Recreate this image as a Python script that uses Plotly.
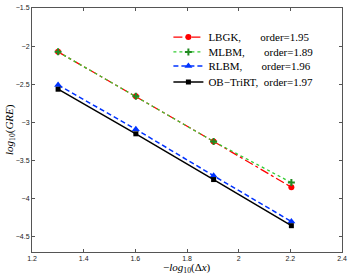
import plotly.graph_objects as go

dx = [1.301, 1.602, 1.903, 2.204]
lbgk = [-2.075, -2.658, -3.25, -3.85]
mlbm = [-2.075, -2.658, -3.25, -3.79]
rlbm = [-2.51, -3.09, -3.70, -4.30]
obtri = [-2.565, -3.15, -3.75, -4.355]

names = ["LBGK,\u00a0\u00a0\u00a0\u00a0\u00a0\u00a0\u00a0order=1.95",
         "MLBM,\u00a0\u00a0\u00a0\u00a0\u00a0\u00a0\u00a0order=1.89",
         "RLBM,\u00a0\u00a0\u00a0\u00a0\u00a0\u00a0\u00a0order=1.96",
         "OB\u2212TriRT,\u00a0\u00a0order=1.97"]

xticks = [1.2, 1.4, 1.6, 1.8, 2.0, 2.2, 2.4]
xticktext = ["1.2", "1.4", "1.6", "1.8", "2", "2.2", "2.4"]
yticks = [-1.5, -2, -2.5, -3, -3.5, -4, -4.5]
yticktext = ["\u22121.5", "\u22122", "\u22122.5", "\u22123", "\u22123.5", "\u22124", "\u22124.5"]

fig = go.Figure()
fig.add_trace(go.Scatter(x=dx, y=lbgk, name=names[0], mode="lines+markers", legend="legend",
                         line=dict(color="#ff0000", dash="dashdot", width=1.3),
                         marker=dict(symbol="circle", size=6, color="#ff0000")))
fig.add_trace(go.Scatter(x=dx, y=mlbm, name=names[1], mode="lines+markers", legend="legend2",
                         line=dict(color="#33cc33", dash="dot", width=1.3),
                         marker=dict(symbol="cross-thin", size=5, color="#228b22",
                                     line=dict(color="#228b22", width=2))))
fig.add_trace(go.Scatter(x=dx, y=rlbm, name=names[2], mode="lines+markers", legend="legend3",
                         line=dict(color="#0033ff", dash="5px,3px", width=1.5),
                         marker=dict(symbol="triangle-up", size=7, color="#0033ff")))
fig.add_trace(go.Scatter(x=dx, y=obtri, name=names[3], mode="lines+markers", legend="legend4",
                         line=dict(color="#000000", width=1.5),
                         marker=dict(symbol="square", size=5, color="#000000")))

axis_common = dict(showgrid=False, zeroline=False, showline=True, mirror="ticks",
                   linecolor="#555555", linewidth=1, ticks="inside", ticklen=3,
                   tickcolor="#555555", automargin=False,
                   tickfont=dict(family="Liberation Sans, Arial, sans-serif", size=7, color="#222222"))

def leg(yc):
    return dict(x=0.44, y=yc, xanchor="left", yanchor="middle",
                bgcolor="rgba(255,255,255,0)", borderwidth=0,
                font=dict(family="Liberation Serif, Times New Roman, serif", size=11),
                itemwidth=30)

fig.update_layout(
    width=350, height=277,
    margin=dict(l=32, r=8, t=8, b=25),
    paper_bgcolor="white", plot_bgcolor="white",
    font=dict(family="Liberation Serif, Times New Roman, serif", color="#000000"),
    xaxis=dict(range=[1.2, 2.4], tickvals=xticks, ticktext=xticktext, **axis_common),
    yaxis=dict(range=[-4.7, -1.5], tickvals=yticks, ticktext=yticktext, **axis_common),
    legend=leg(0.881), legend2=leg(0.820), legend3=leg(0.762), legend4=leg(0.697),
    showlegend=True,
    annotations=[
        dict(text="\u2212<i>log</i><sub>10</sub>(\u0394<i>x</i>)", xref="paper", yref="paper",
             x=0.5, y=0, yshift=-7, xanchor="center", yanchor="top", showarrow=False,
             font=dict(size=11)),
        dict(text="<i>log</i><sub>10</sub>(<i>GRE</i>)", xref="paper", yref="paper",
             x=0, y=0.5, xshift=-22, xanchor="center", yanchor="middle", showarrow=False,
             textangle=-90, font=dict(size=11)),
    ],
)

fig.write_html("out.html", config={"displayModeBar": False},
               post_script="document.body.style.margin='0';document.body.style.overflow='hidden';")
